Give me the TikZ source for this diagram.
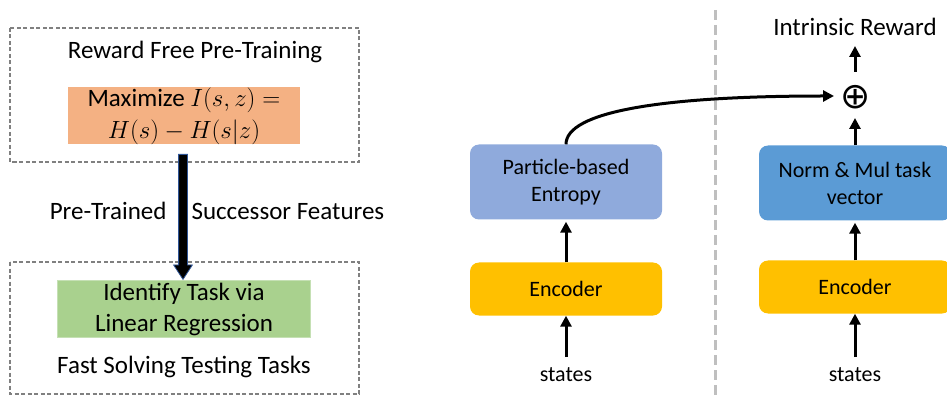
\documentclass[tikz,border=0pt]{standalone}
\usepackage{fontspec}
\setmainfont{Carlito}
\newfontfamily\symfont{DejaVu Sans}
\usepackage{tikz}
\usetikzlibrary{shapes.arrows,arrows.meta}

\definecolor{orangefill}{HTML}{F4B183}
\definecolor{greenfill}{HTML}{A9D18E}
\definecolor{greenedge}{HTML}{C5E0B4}
\definecolor{entropyblue}{HTML}{8FAADC}
\definecolor{normblue}{HTML}{5B9BD5}
\definecolor{encyellow}{HTML}{FFC000}
\definecolor{sepgray}{HTML}{BFBFBF}
\definecolor{arrowedge}{HTML}{2F5597}

\tikzset{
  stagebox/.style={draw=gray, dashed, line width=1.2pt, dash pattern=on 4pt off 2.5pt},
  bigtext/.style={font=\fontsize{25}{31}\selectfont},
  fillbox/.style={align=center, bigtext, inner sep=0pt},
  netbox/.style={rounded corners=9pt, align=center, inner sep=0pt,
                 font=\fontsize{22}{27}\selectfont},
  flow/.style={line width=3pt, -{Triangle[length=11pt,width=11pt]}},
}

\begin{document}
\begin{tikzpicture}[x=1pt,y=-1pt]
	\useasboundingbox (0,0) rectangle (947,403);
	% left: pre-training and testing
	\draw [stagebox] (10,28) rectangle (359,162);
	\node[bigtext] (pretitle) at (195,52) {Reward Free Pre-Training};
	\node[fillbox, fill=orangefill, minimum width=232pt, minimum height=57pt,
		font=\fontsize{25}{32}\selectfont] (mi) at (184,116)
		{Maximize $I(s,z) =$\\ $H(s) - H(s|z)$};
	\draw [stagebox] (10,262) rectangle (359,394);
	\node[fillbox, fill=greenfill, draw=greenedge, line width=1.5pt,
		minimum width=253pt, minimum height=57pt] (task) at (184,309)
		{Identify Task via\\ Linear Regression};
	\node[bigtext] (fast) at (184,367) {Fast Solving Testing Tasks};
	\node[single arrow, rotate=-90, fill=black, draw=arrowedge, line width=0.8pt,
		minimum height=125pt, inner xsep=0pt, inner ysep=4pt, single arrow head extend=5pt,
		single arrow tip angle=66] (sf) at (183,213.5) {};
	\node[bigtext, left] (pt) at (170,211) {Pre-Trained};
	\node[bigtext, right] (suc) at (188,211) {Successor Features};
%
	\draw [sepgray, line width=3pt, dash pattern=on 10pt off 5pt] (715,10) -- (715,396);
	% right: intrinsic reward
	\node[netbox, fill=entropyblue, minimum width=192pt, minimum height=75pt] (ent) at (566,182)
		{Particle-based\\ Entropy};
	\node[netbox, fill=encyellow, minimum width=192pt, minimum height=53pt] (encl) at (566,289) {Encoder};
	\node[font=\fontsize{22}{26}\selectfont] (stl) at (566,375) {states};
	\node[netbox, fill=normblue, minimum width=192pt, minimum height=75pt] (norm) at (855,183)
		{Norm \& Mul task\\ vector};
	\node[netbox, fill=encyellow, minimum width=192pt, minimum height=53pt] (encr) at (855,287) {Encoder};
	\node[font=\fontsize{22}{26}\selectfont] (str) at (855,375) {states};
	\node[font=\symfont\fontsize{36}{36}\selectfont, inner sep=0pt] (plus) at (856,97) {⊕};
	\node[bigtext] (ir) at (855,27) {Intrinsic Reward};
	\draw [flow] (566,357) -- (encl.south);
	\draw [flow] (encl.north) -- ([yshift=-2pt]ent.south);
	\draw [flow] (855,357) -- (encr.south);
	\draw [flow] (encr.north) -- ([yshift=-2pt]norm.south);
	\draw [flow] (norm.north) -- (855,118);
	\draw [flow] (855,72) -- (855,46);
	\draw [flow] (ent.north) .. controls (566,112) and (660,96) .. (834,96);
\end{tikzpicture}
\end{document}
